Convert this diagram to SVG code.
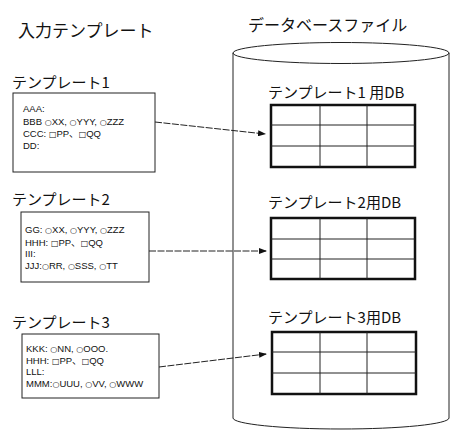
<svg xmlns="http://www.w3.org/2000/svg" width="451" height="434" viewBox="0 0 451 434">
<style>
.jp{font-family:"Noto Sans CJK JP","Noto Sans",sans-serif;fill:#111;}
.t1{font-size:17px;}
.t0{font-size:16px;}
.t2{font-size:15px;}
.bx{font-family:"Liberation Sans","Noto Sans CJK JP",sans-serif;font-size:9.5px;fill:#111;}
.sy{font-family:"DejaVu Sans",sans-serif;font-size:8px;}
.box{fill:#fff;stroke:#222;stroke-width:1;}
.tbl{fill:#fff;stroke:#111;stroke-width:2.5;}
.grid{stroke:#222;stroke-width:1;fill:none;}
.conn{stroke:#222;stroke-width:1;fill:none;stroke-dasharray:7 1.5;}
.cyl{stroke:#222;stroke-width:1;fill:none;}
</style>
<defs>
<marker id="ah" markerWidth="8" markerHeight="6" refX="7" refY="3" orient="auto" markerUnits="userSpaceOnUse">
<path d="M0,0 L8,3 L0,6 Z" fill="#111"/>
</marker>
</defs>
<rect width="451" height="434" fill="#fff"/>
<g id="titles">
<text class="jp t1" x="18" y="37">入力テンプレート</text>
<text class="jp t0" x="248" y="31">データベースファイル</text>
</g>
<g id="database">
<ellipse class="cyl" cx="341" cy="53" rx="108" ry="10.5"/>
<path class="cyl" d="M233,53 L233,418 A108,11 0 0 0 449,418 L449,53"/>
</g>
<g id="template1">
<text class="jp t2" x="12" y="88">テンプレート1</text>
<rect class="box" x="13" y="93" width="142" height="79"/>
<text class="bx" x="23" y="112">AAA:</text>
<text class="bx" x="23" y="125">BBB <tspan class="sy">○</tspan>XX, <tspan class="sy">○</tspan>YYY, <tspan class="sy">○</tspan>ZZZ</text>
<text class="bx" x="23" y="137">CCC: <tspan class="sy">□</tspan>PP、<tspan class="sy">□</tspan>QQ</text>
<text class="bx" x="23" y="149">DD:</text>
</g>
<g id="template2">
<text class="jp t2" x="12" y="205">テンプレート2</text>
<rect class="box" x="21" y="212" width="128" height="70"/>
<text class="bx" x="25" y="233">GG: <tspan class="sy">○</tspan>XX, <tspan class="sy">○</tspan>YYY, <tspan class="sy">○</tspan>ZZZ</text>
<text class="bx" x="25" y="246">HHH: <tspan class="sy">□</tspan>PP、<tspan class="sy">□</tspan>QQ</text>
<text class="bx" x="25" y="257">III:</text>
<text class="bx" x="25" y="269">JJJ:<tspan class="sy">○</tspan>RR, <tspan class="sy">○</tspan>SSS, <tspan class="sy">○</tspan>TT</text>
</g>
<g id="template3">
<text class="jp t2" x="12" y="328">テンプレート3</text>
<rect class="box" x="22" y="334" width="137" height="64"/>
<text class="bx" x="26" y="352">KKK: <tspan class="sy">○</tspan>NN, <tspan class="sy">○</tspan>OOO.</text>
<text class="bx" x="26" y="364">HHH: <tspan class="sy">□</tspan>PP、<tspan class="sy">□</tspan>QQ</text>
<text class="bx" x="26" y="375">LLL:</text>
<text class="bx" x="26" y="387">MMM:<tspan class="sy">○</tspan>UUU, <tspan class="sy">○</tspan>VV, <tspan class="sy">○</tspan>WWW</text>
</g>
<g id="db1">
<text class="jp t2" x="268" y="98">テンプレート1 用DB</text>
<rect class="tbl" x="271" y="105" width="144" height="62"/>
<path class="grid" d="M271,125 H415 M271,146 H415 M320,105 V167 M367,105 V167"/>
</g>
<g id="db2">
<text class="jp t2" x="268" y="208">テンプレート2用DB</text>
<rect class="tbl" x="271" y="218" width="144" height="61"/>
<path class="grid" d="M271,239 H415 M271,259 H415 M320,218 V279 M367,218 V279"/>
</g>
<g id="db3">
<text class="jp t2" x="268" y="323">テンプレート3用DB</text>
<rect class="tbl" x="272" y="332" width="144" height="62"/>
<path class="grid" d="M272,352 H416 M272,373 H416 M320,332 V394 M367,332 V394"/>
</g>
<g id="connectors">
<line class="conn" x1="155" y1="122" x2="265" y2="134" marker-end="url(#ah)"/>
<line class="conn" x1="149" y1="251" x2="266" y2="251" marker-end="url(#ah)"/>
<line class="conn" x1="159" y1="367" x2="266" y2="354" marker-end="url(#ah)"/>
</g>
</svg>
